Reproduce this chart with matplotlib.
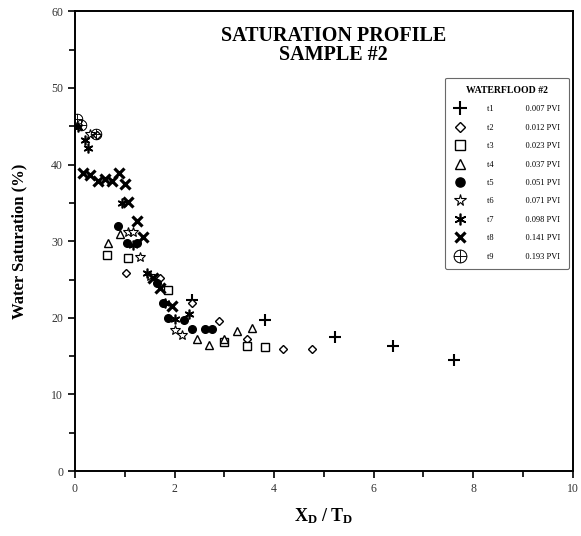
import matplotlib
matplotlib.use('Agg')
import matplotlib.pyplot as plt
from matplotlib.ticker import MultipleLocator

plt.rcParams['font.family'] = ['Liberation Serif', 'DejaVu Serif']
plt.rcParams['mathtext.fontset'] = 'custom'
plt.rcParams['mathtext.rm'] = 'Liberation Serif'
plt.rcParams['mathtext.bf'] = 'Liberation Serif:bold'

# Saturation profile data, one series per time step
times = ['t1', 't2', 't3', 't4', 't5', 't6', 't7', 't8', 't9']
pvi = ['0.007', '0.012', '0.023', '0.037', '0.051', '0.071', '0.098', '0.141', '0.193']

t1_x = [2.35, 3.82, 5.22, 6.39, 7.61]
t1_y = [22.3, 19.7, 17.5, 16.3, 14.5]
t2_x = [0.45, 1.02, 1.70, 2.35, 2.89, 3.45, 4.18, 4.76]
t2_y = [43.8, 25.9, 25.2, 22.0, 19.6, 17.2, 15.9, 15.9]
t3_x = [0.64, 1.06, 1.87, 3.00, 3.45, 3.82]
t3_y = [28.2, 27.8, 23.6, 16.8, 16.3, 16.2]
t4_x = [0.66, 0.90, 2.45, 2.69, 3.00, 3.25, 3.55]
t4_y = [29.7, 31.0, 17.3, 16.4, 17.2, 18.3, 18.7]
t5_x = [0.86, 1.04, 1.24, 1.64, 1.77, 1.87, 2.20, 2.35, 2.61, 2.75]
t5_y = [32.0, 29.8, 29.7, 24.5, 21.9, 20.0, 19.7, 18.6, 18.5, 18.5]
t6_x = [0.30, 1.06, 1.16, 1.30, 1.50, 2.00, 2.15]
t6_y = [44.0, 31.2, 31.2, 28.0, 25.5, 18.4, 17.7]
t7_x = [0.06, 0.20, 0.26, 0.94, 1.16, 1.44, 1.81, 2.00, 2.30]
t7_y = [44.9, 43.2, 42.1, 35.0, 29.5, 25.9, 21.9, 19.9, 20.5]
t8_x = [0.16, 0.30, 0.46, 0.60, 0.74, 0.88, 1.00, 1.06, 1.24, 1.37, 1.57, 1.70, 1.95]
t8_y = [38.9, 38.6, 37.8, 38.1, 37.9, 38.9, 37.4, 35.1, 32.7, 30.5, 25.2, 23.9, 21.6]
t9_x = [0.05, 0.12, 0.42]
t9_y = [46.0, 45.2, 44.0]

series_x = [t1_x, t2_x, t3_x, t4_x, t5_x, t6_x, t7_x, t8_x, t9_x]
series_y = [t1_y, t2_y, t3_y, t4_y, t5_y, t6_y, t7_y, t8_y, t9_y]

# marker styles for each series
styles = [
    dict(marker='+', ms=8, mew=1.5, color='black'),
    dict(marker='D', ms=4.5, mew=1.0, mfc='white', color='black'),
    dict(marker='s', ms=6, mew=1.0, mfc='white', color='black'),
    dict(marker='^', ms=6, mew=1.0, mfc='white', color='black'),
    dict(marker='o', ms=5.5, color='black'),
    dict(marker='*', ms=7, mew=0.8, mfc='white', color='black'),
    dict(marker=(6, 2, 0), ms=7, mew=1.2, color='black'),
    dict(marker='x', ms=6.5, mew=2.3, color='black'),
    dict(marker='$\\oplus$', ms=8, mew=0.3, color='black'),
]

fig = plt.figure(figsize=(5.81, 5.36), dpi=100)
ax = fig.add_axes([0.129, 0.121, 0.857, 0.858])

for t, p, xs, ys, st in zip(times, pvi, series_x, series_y, styles):
    ax.plot(xs, ys, linestyle='none', label=f'{t}               {p} PVI', **st)

ax.set_xlim(0, 10)
ax.set_ylim(0, 60)
ax.xaxis.set_major_locator(MultipleLocator(2))
ax.xaxis.set_minor_locator(MultipleLocator(1))
ax.yaxis.set_major_locator(MultipleLocator(10))
ax.yaxis.set_minor_locator(MultipleLocator(5))
ax.tick_params(axis='both', which='both', direction='out', labelsize=8.5,
               labelcolor='#333333', width=1.2)
ax.tick_params(which='major', length=5)
ax.tick_params(which='minor', length=4)
for s in ax.spines.values():
    s.set_linewidth(1.4)

ax.set_xlabel(r'$\mathbf{X_D}$ / $\mathbf{T_D}$', fontsize=13, fontweight='bold',
              labelpad=8)
ax.set_ylabel('Water Saturation (%)', fontsize=12, fontweight='bold', labelpad=17)

ax.text(0.52, 0.968, 'SATURATION PROFILE\nSAMPLE #2', transform=ax.transAxes,
        ha='center', va='top', fontsize=14.5, fontweight='bold', linespacing=0.95)

leg = ax.legend(loc='upper right', bbox_to_anchor=(1.0, 0.865), fontsize=6,
                title='WATERFLOOD #2', title_fontproperties={'size': 7, 'weight': 'bold'},
                frameon=True, fancybox=True, edgecolor='#444444',
                labelspacing=1.25, handletextpad=2.6, borderpad=1.0,
                handlelength=1.4, markerscale=1.2)
leg.get_frame().set_linewidth(0.8)

fig.savefig('out.png', dpi=100)
